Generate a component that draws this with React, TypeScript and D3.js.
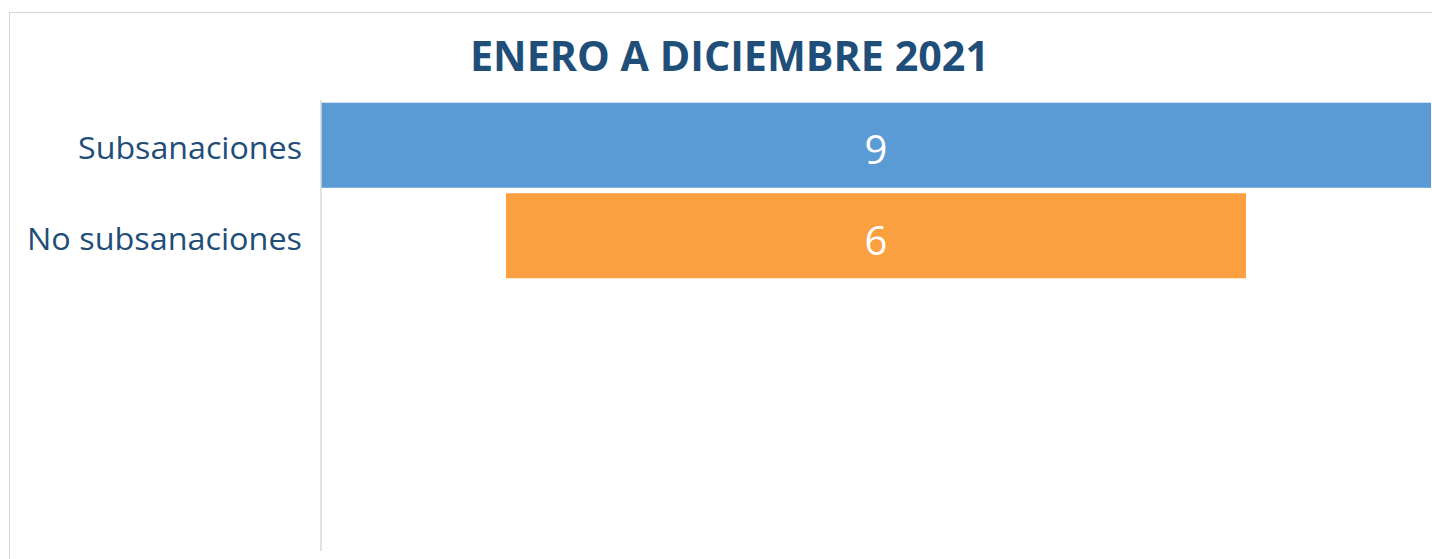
import React from "react";
import * as d3 from "d3";

const categories = ["Subsanaciones", "No subsanaciones"];
const values = [9, 6];
const colors = ["#5B9BD5", "#FBA040"];
const title = "ENERO A DICIEMBRE 2021";

const W = 1432;
const H = 559;

export default function App() {
  const plotLeft = 321;
  const plotRight = 1431;
  const center = (plotLeft + plotRight) / 2;
  const maxV = d3.max(values) as number;
  const wScale = d3.scaleLinear().domain([0, maxV]).range([0, plotRight - plotLeft]);
  const y = d3
    .scaleBand<string>()
    .domain(categories)
    .range([100, 281])
    .paddingInner(0.06)
    .paddingOuter(0.03);

  const font = "'Open Sans', 'Noto Sans', sans-serif";

  return (
    <svg
      width={W}
      height={H}
      style={{ position: "absolute", left: 0, top: 0, display: "block" }}
    >
      <rect x={0} y={0} width={W} height={H} fill="#ffffff" />
      <rect x={9.5} y={12.5} width={W + 20} height={H + 20} fill="none" stroke="#D9D9D9" strokeWidth={1} />
      <text
        x={729.5}
        y={71}
        textAnchor="middle"
        fontFamily={font}
        fontWeight={700}
        fontSize={41}
        fill="#1F4E79"
        textLength={519}
        lengthAdjust="spacingAndGlyphs"
      >
        {title}
      </text>
      {categories.map((c, i) => {
        const w = wScale(values[i]);
        const y0 = y(c) as number;
        const bh = y.bandwidth();
        const cy = y0 + bh / 2;
        return (
          <g key={c}>
            <rect x={center - w / 2} y={y0} width={w} height={bh} fill={colors[i]} />
            <text
              x={center}
              y={cy + 19}
              textAnchor="middle"
              fontFamily={font}
              fontSize={40}
              fill="#ffffff"
            >
              {values[i]}
            </text>
            <text
              x={302}
              y={cy + 14}
              textAnchor="end"
              fontFamily={font}
              fontSize={31}
              fill="#1F4E79"
              textLength={i === 0 ? 224 : 275}
              lengthAdjust="spacingAndGlyphs"
            >
              {c}
            </text>
          </g>
        );
      })}
      <line x1={321} x2={321} y1={100} y2={551} stroke="#D9D9D9" strokeWidth={1.5} />
    </svg>
  );
}
